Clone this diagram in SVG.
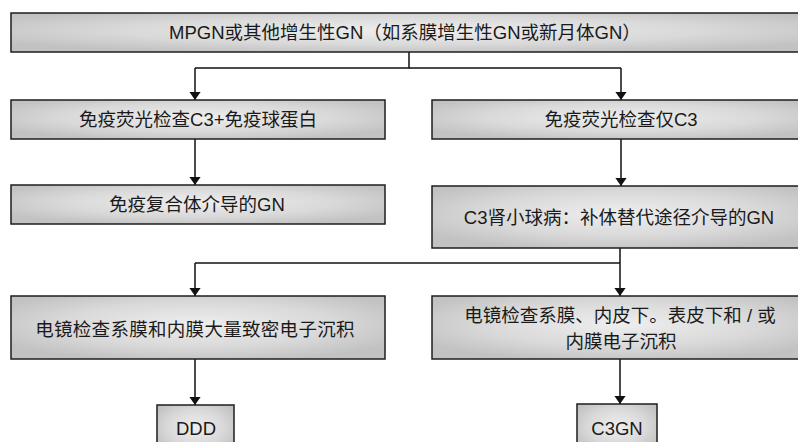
<svg xmlns="http://www.w3.org/2000/svg" width="798" height="442" viewBox="0 0 798 442">
<defs>
<radialGradient id="g" cx="0.5" cy="0.45" r="0.6" fx="0.5" fy="0.45">
<stop offset="0" stop-color="#eeeeee"/>
<stop offset="0.6" stop-color="#d9d9d9"/>
<stop offset="1" stop-color="#c2c2c2"/>
</radialGradient>
<marker id="ah" viewBox="0 0 10 14" refX="10" refY="7" markerWidth="8" markerHeight="12" markerUnits="userSpaceOnUse" orient="auto">
<path d="M0,0 L10,7 L0,14 Z" fill="#111"/>
</marker>
</defs>
<style>
.box{fill:url(#g);stroke:#1e1e1e;stroke-width:1.5}
.t{font-family:"Liberation Sans","Noto Sans CJK SC",sans-serif;font-size:18.5px;fill:#1a1a1a;text-anchor:middle}
.c{fill:none;stroke:#111;stroke-width:1.5}
</style>
<rect width="798" height="442" fill="#fff"/>
<g id="connectors">
<polyline class="c" points="409,52 409,68 195,68"/>
<line class="c" x1="195" y1="68" x2="195" y2="100" marker-end="url(#ah)"/>
<line class="c" x1="409" y1="68" x2="621" y2="68"/>
<line class="c" x1="621" y1="68" x2="621" y2="100" marker-end="url(#ah)"/>
<line class="c" x1="195" y1="139" x2="195" y2="185" marker-end="url(#ah)"/>
<line class="c" x1="621" y1="139" x2="621" y2="186" marker-end="url(#ah)"/>
<line class="c" x1="620" y1="248" x2="620" y2="296" marker-end="url(#ah)"/>
<polyline class="c" points="620,263 195,263"/>
<line class="c" x1="195" y1="263" x2="195" y2="296" marker-end="url(#ah)"/>
<line class="c" x1="195" y1="359" x2="195" y2="405" marker-end="url(#ah)"/>
<line class="c" x1="620" y1="359" x2="620" y2="404" marker-end="url(#ah)"/>
</g>
<g id="n1"><rect class="box" x="11" y="13" width="800" height="39"/><text class="t" x="405" y="39">MPGN或其他增生性GN（如系膜增生性GN或新月体GN）</text></g>
<g id="n2"><rect class="box" x="11" y="100" width="374" height="39"/><text class="t" x="198" y="126">免疫荧光检查C3+免疫球蛋白</text></g>
<g id="n3"><rect class="box" x="432" y="100" width="380" height="39"/><text class="t" x="621" y="126">免疫荧光检查仅C3</text></g>
<g id="n4"><rect class="box" x="11" y="185" width="374" height="39"/><text class="t" x="197" y="211">免疫复合体介导的GN</text></g>
<g id="n5"><rect class="box" x="432" y="186" width="380" height="62"/><text class="t" x="619" y="224">C3肾小球病：补体替代途径介导的GN</text></g>
<g id="n6"><rect class="box" x="11" y="296" width="374" height="63"/><text class="t" x="195" y="336" letter-spacing="0.3">电镜检查系膜和内膜大量致密电子沉积</text></g>
<g id="n7"><rect class="box" x="432" y="296" width="380" height="63"/><text class="t" x="620" y="322">电镜检查系膜、内皮下。表皮下和 / 或</text><text class="t" x="621" y="348">内膜电子沉积</text></g>
<g id="n8"><rect class="box" x="157" y="405" width="77" height="50"/><text class="t" x="196" y="435">DDD</text></g>
<g id="n9"><rect class="box" x="577" y="404" width="80" height="50"/><text class="t" x="617" y="435">C3GN</text></g>
</svg>
